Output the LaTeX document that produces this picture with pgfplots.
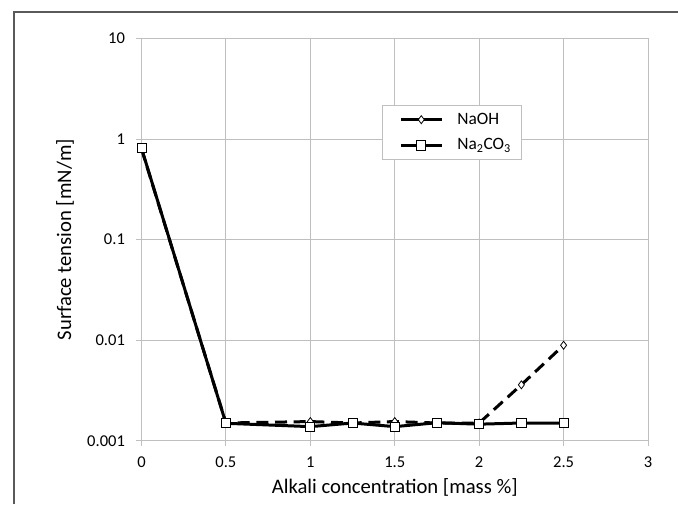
\documentclass[border=0pt]{standalone}
\usepackage{fontspec}
\setmainfont{Carlito}
\usepackage{pgfplots}
\pgfplotsset{compat=1.18}
\definecolor{gridgray}{RGB}{191,191,191}
\definecolor{framegray}{RGB}{90,90,90}
\begin{document}
\fontsize{12.4}{14}\selectfont
\begin{tikzpicture}[x=0.75pt,y=0.75pt]
\useasboundingbox (0,0) rectangle (678,504);
\draw[framegray, line width=1pt] (14,0) -- (14,492) -- (678,492);
\begin{axis}[
  at={(106.125pt,47.475pt)}, anchor=south west,
  scale only axis, width=379.875pt, height=301.65pt,
  xmin=0, xmax=3, ymode=log, ymin=0.001, ymax=10,
  xtick={0,0.5,1,1.5,2,2.5,3},
  xticklabels={0,0.5,1,1.5,2,2.5,3},
  ytick={0.001,0.01,0.1,1,10},
  yticklabels={0.001,0.01,0.1,1,10},
  yminorticks=false,
  grid=major,
  major grid style={gridgray, line width=0.75pt},
  axis line style={gridgray, line width=0.75pt},
  every tick/.style={gridgray, line width=0.75pt},
  tick align=outside, tick pos=left, major tick length=3.75pt,
  /pgf/number format/assume math mode=true,
  tick label style={font=\fontsize{12.4}{14}\selectfont, inner sep=0pt},
  xticklabel style={yshift=-8pt},
  yticklabel style={xshift=-8.5pt},
  xlabel={Alkali concentration [mass \%]},
  ylabel={Surface tension [mN/m]},
  label style={font=\fontsize{15.5}{18}\selectfont},
  xlabel style={at={(axis description cs:0.5,-0.117)}, anchor=center},
  ylabel style={at={(axis description cs:-0.151,0.5)}, anchor=center},
  legend style={at={(0.475,0.8347)}, anchor=north west, draw=gridgray, line width=0.75pt,
    font=\fontsize{13}{15}\selectfont, inner xsep=6pt, inner ysep=3.5pt, row sep=5pt},
  legend cell align=left,
  legend image code/.code={\path (-6.5pt,0pt) (39.3pt,0pt);
    \draw[#1, solid, mark=none] (0pt,0pt) -- (30.8pt,0pt);
    \draw[#1, solid] plot coordinates {(15.4pt,0pt)};},
]
\addplot[black, line width=2.25pt, dash pattern=on 9pt off 5pt,
  mark=diamond*, mark size=3pt, mark options={solid, fill=white, line width=0.6pt}]
  coordinates {(0,0.8) (0.5,0.0015) (1,0.00155) (1.25,0.0015) (1.5,0.00155) (1.75,0.0015) (2,0.0015) (2.25,0.0036) (2.5,0.0089)};
\addlegendentry{NaOH}
\addplot[black, line width=2.25pt,
  mark=square*, mark size=3.4pt, mark options={solid, fill=white, line width=0.6pt}]
  coordinates {(0,0.81) (0.5,0.00149) (1,0.00138) (1.25,0.0015) (1.5,0.00138) (1.75,0.00151) (2,0.00146) (2.25,0.0015) (2.5,0.0015)};
\addlegendentry{Na\textsubscript{2}CO\textsubscript{3}}
\end{axis}
\end{tikzpicture}
\end{document}
